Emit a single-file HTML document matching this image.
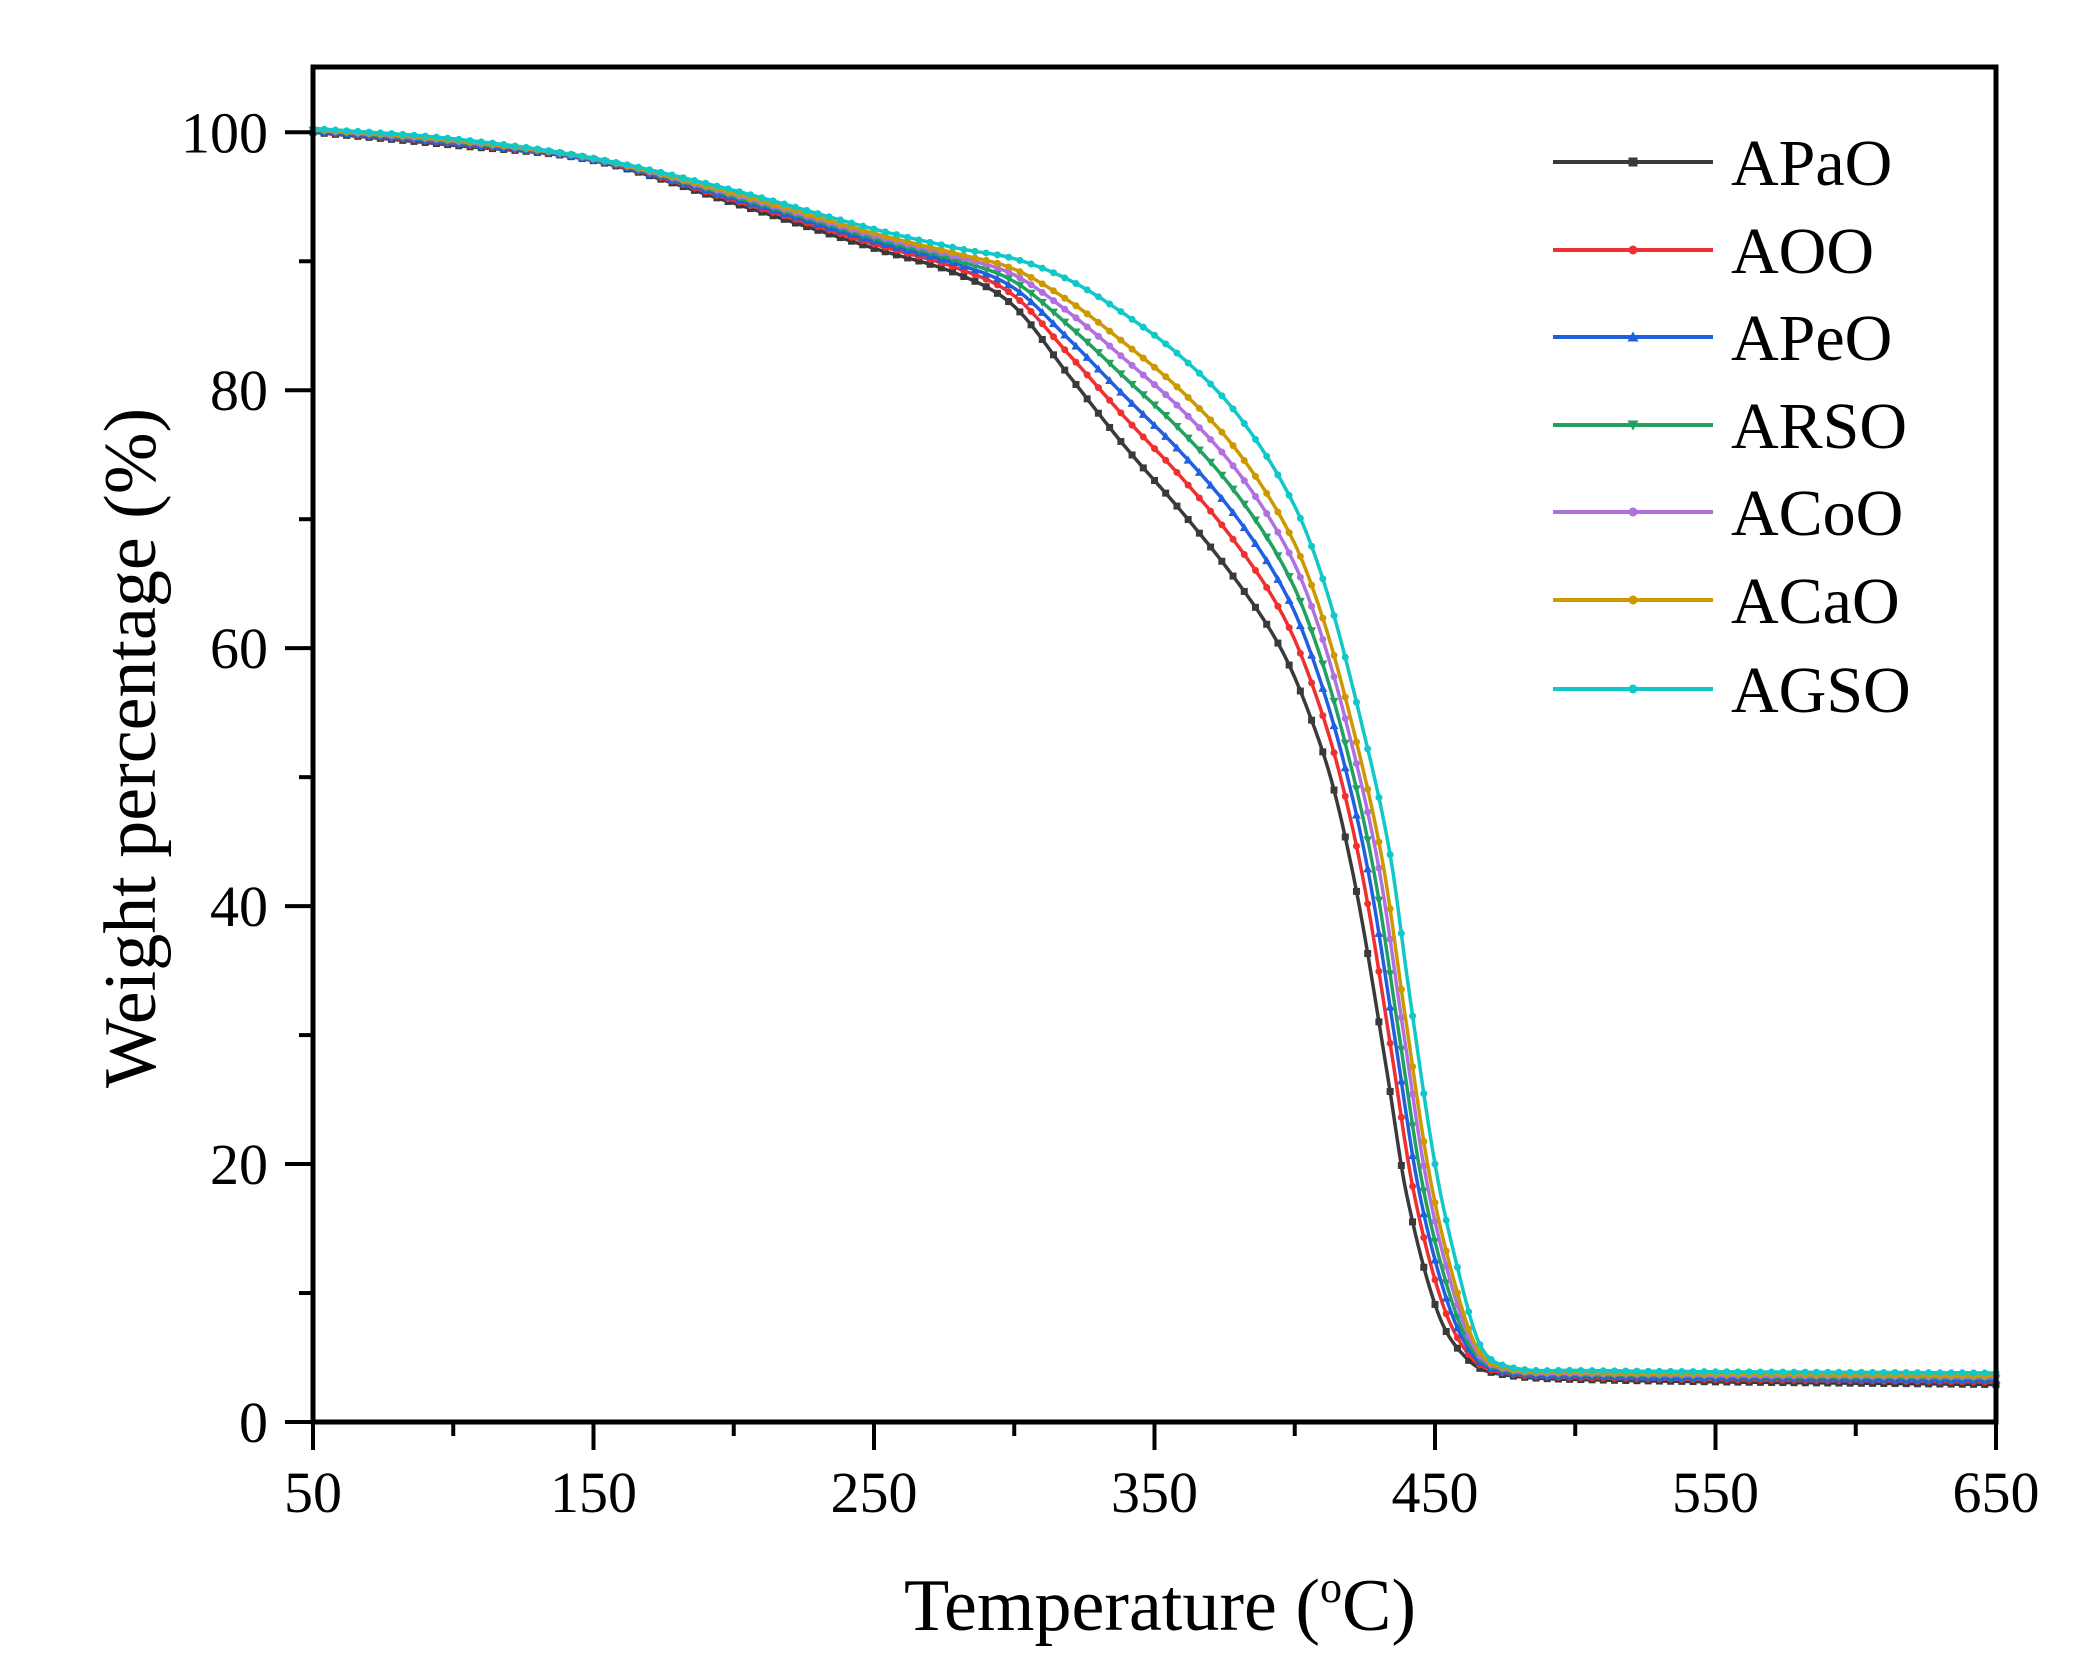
<!DOCTYPE html>
<html><head><meta charset="utf-8">
<style>
html,body{margin:0;padding:0;background:#fff;}
svg{display:block;}
text{font-family:"Liberation Serif",serif;fill:#000;}
</style></head>
<body>
<svg id="s" width="2091" height="1680" viewBox="0 0 2091 1680" xmlns="http://www.w3.org/2000/svg">
<rect width="2091" height="1680" fill="#fff"/>
<g id="curves"></g>
<g id="axes"></g>
<text x="1160" y="1630" font-size="74" text-anchor="middle">Temperature (<tspan font-size="44" dy="-28">o</tspan><tspan dy="28">C)</tspan></text>
<text transform="translate(155,748) rotate(-90)" font-size="74" text-anchor="middle">Weight percentage (%)</text>
<g id="legend"></g>
</svg>
<script>
(function(){
var NS="http://www.w3.org/2000/svg";
function X(v){return 313+(v-50)*(1996-313)/600;}
function Y(v){return 1422-(v)*(1422-132.3)/100;}
function el(t,a,p){var e=document.createElementNS(NS,t);for(var k in a)e.setAttribute(k,a[k]);p.appendChild(e);return e;}
var ax=document.getElementById('axes');
for(var v=50;v<=650;v+=50){var maj=((v-50)%100===0);el('line',{x1:X(v),x2:X(v),y1:1422,y2:1422+(maj?28:14),stroke:'#000','stroke-width':4},ax);
 if(maj){var t=el('text',{x:X(v),y:1512,'font-size':58,'text-anchor':'middle'},ax);t.textContent=v;}}
for(var v=0;v<=100;v+=10){var maj=(v%20===0);el('line',{x1:313,x2:313-(maj?28:14),y1:Y(v),y2:Y(v),stroke:'#000','stroke-width':4},ax);
 if(maj){var t=el('text',{x:268,y:Y(v)+20,'font-size':58,'text-anchor':'end'},ax);t.textContent=v;}}
el('rect',{x:313,y:67,width:1996-313,height:1422-67,fill:'none',stroke:'#000','stroke-width':5},ax);

var A=[[50,100],[100,99],[150,97.8],[200,94.5],[250,91],[280,89],[300,86.5],[320,81],[340,75.5],[360,70.5],[380,65],[395,60],[405,55],[414,49],[423,40],[433,27],[440,17.5],[451,8.5],[461,5],[471,3.8],[500,3.3],[650,2.9]];
var G=[[50,100.3],[100,99.5],[150,98],[200,95.5],[250,92.5],[280,91],[300,90.2],[320,88.5],[340,85.8],[360,82.5],[380,78],[400,71],[412,64],[424,54],[434,44],[441,33],[450,20],[458,12],[466,6],[476,4.3],[500,4],[650,3.8]];
function interp(P,x){for(var i=0;i<P.length-1;i++){if(x<=P[i+1][0]){var a=P[i],b=P[i+1];var h=b[0]-a[0];var t=(x-a[0])/h;
 var p0=P[Math.max(i-1,0)],p3=P[Math.min(i+2,P.length-1)];
 var m1=(b[1]-p0[1])/(b[0]-p0[0])*h,m2=(p3[1]-a[1])/(p3[0]-a[0])*h;
 var t2=t*t,t3=t2*t;return (2*t3-3*t2+1)*a[1]+(t3-2*t2+t)*m1+(-2*t3+3*t2)*b[1]+(t3-t2)*m2;}}return P[P.length-1][1];}
var series=[['APaO','#3a3a3a',0,'s'],['AOO','#f03030',0.22,'c'],['APeO','#1f5fe0',0.38,'u'],['ARSO','#22a060',0.52,'d'],['ACoO','#b070e0',0.66,'p'],['ACaO','#cc9900',0.78,'r'],['AGSO','#10c8c8',1,'t']];
var cg=document.getElementById('curves');
function marker(g,x,y,c,type,sz){if(type==='s')el('rect',{x:x-sz,y:y-sz,width:2*sz,height:2*sz,fill:c},g);
 else if(type==='u')el('polygon',{points:(x)+','+(y-sz-1)+' '+(x-sz-1)+','+(y+sz)+' '+(x+sz+1)+','+(y+sz),fill:c},g);
 else if(type==='d')el('polygon',{points:(x)+','+(y+sz+1)+' '+(x-sz-1)+','+(y-sz)+' '+(x+sz+1)+','+(y-sz),fill:c},g);
 else el('circle',{cx:x,cy:y,r:sz,fill:c},g);}
series.forEach(function(s){var w=s[2];
 var P=A.map(function(a,i){var g=G[i];return [a[0]+(g[0]-a[0])*w,a[1]+(g[1]-a[1])*w];});
 var pts=[];
 for(var x=50;x<=650;x+=1){pts.push([X(x),Y(interp(P,x))]);}
 var d='M'+pts.map(function(p){return p[0].toFixed(1)+','+p[1].toFixed(1);}).join('L');
 var g=el('g',{},cg);
 el('path',{d:d,fill:'none',stroke:s[1],'stroke-width':3.5,'stroke-linejoin':'round'},g);
 for(var i=0;i<pts.length;i+=4)marker(g,pts[i][0],pts[i][1],s[1],s[3],3.5);
});
var lg=document.getElementById('legend');
var ly=[162,250,337,425,512,600,689];
series.forEach(function(s,i){var y=ly[i];el('line',{x1:1553,x2:1713,y1:y,y2:y,stroke:s[1],'stroke-width':4},lg);
 marker(lg,1633,y,s[1],s[3],4.5);
 var t=el('text',{x:1731,y:y+23,'font-size':66},lg);t.textContent=s[0];});
})();
</script>
</body></html>
